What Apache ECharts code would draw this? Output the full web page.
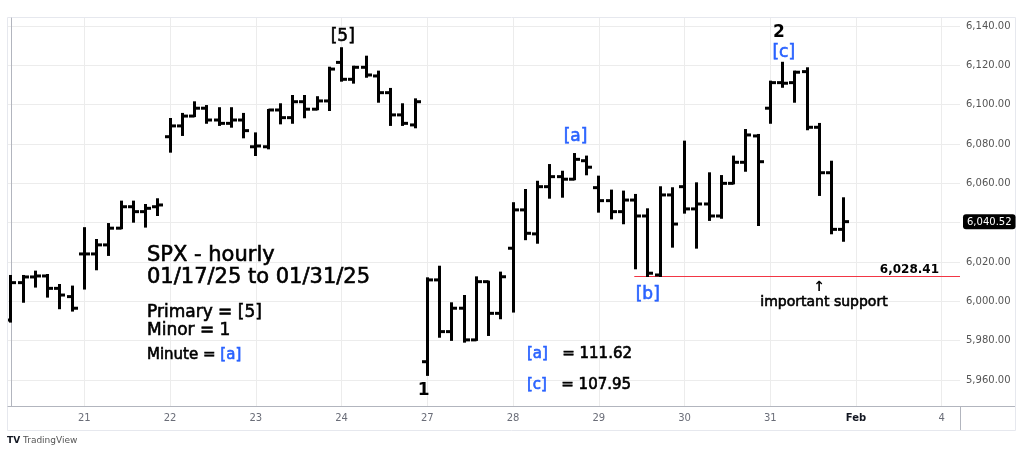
<!DOCTYPE html>
<html>
<head>
<meta charset="utf-8">
<script src="https://cdn.jsdelivr.net/npm/echarts@6/dist/echarts.min.js"></script>
<style>
html,body{margin:0;padding:0;background:#fff;}
#c{width:1023px;height:454px;}
</style>
</head>
<body>
<div id="c"></div>
<script>
// ---- data (hourly bars, 7 per session; first session (Jan 17) only partly visible) ----
const dayStarts = [6, 13, 20, 27, 34, 41, 48, 55, 62, 69, 76];
const dayLabels = ['21', '22', '23', '24', '27', '28', '29', '30', '31', 'Feb', '4'];

const opens = [
  5990.5, 6009.5, 6012.4, 6012.9, 6006.6, 6002.4,
  6024.1, 6024.1, 6028.7, 6037.2, 6048.1, 6045.6, 6048.1,
  6083.7, 6089.2, 6094.2, 6098.2, 6092.2, 6090.5, 6092.2,
  6078.6, 6078.6, 6097.3, 6093.4, 6101.5, 6097.7, 6101.9,
  6121.5, 6112.9, 6119.0, 6114.6, 6106.1, 6094.8, 6089.7,
  5969.3, 6010.9, 5984.6, 5996.5, 5980.4, 6010.0, 5993.9,
  6027.0, 6046.5, 6034.3, 6058.3, 6063.4, 6062.1, 6071.5,
  6057.8, 6051.2, 6045.6, 6051.5, 6043.4, 6013.4, 6054.1,
  6058.3, 6047.0, 6049.5, 6043.4, 6060.0, 6070.7, 6084.1,
  6098.2, 6111.2, 6111.2, 6116.8, 6088.5, 6065.4, 6036.6
];
const highs = [
  6012.9, 6012.9, 6015.1, 6013.4, 6008.3, 6007.5,
  6037.2, 6031.2, 6039.3, 6050.7, 6050.7, 6049.0, 6051.9,
  6092.7, 6095.3, 6101.2, 6099.3, 6098.2, 6098.2, 6095.3,
  6085.4, 6097.3, 6100.2, 6104.4, 6104.4, 6103.8, 6118.8,
  6128.7, 6119.3, 6124.4, 6116.8, 6108.0, 6100.2, 6102.7,
  6011.7, 6017.6, 5999.0, 6002.7, 6012.2, 6010.0, 6014.6,
  6049.9, 6056.6, 6060.8, 6069.3, 6065.9, 6074.9, 6073.6,
  6063.4, 6056.3, 6055.8, 6054.1, 6046.8, 6058.0, 6057.5,
  6081.2, 6060.0, 6065.1, 6063.7, 6073.6, 6087.1, 6084.6,
  6111.7, 6121.3, 6116.8, 6118.5, 6090.2, 6071.0, 6052.4
];
const lows = [
  5989.7, 5999.8, 6007.5, 6002.4, 5996.5, 5995.3,
  6006.5, 6016.3, 6023.6, 6037.2, 6040.5, 6038.0, 6043.9,
  6076.1, 6084.6, 6094.2, 6090.8, 6089.7, 6088.8, 6083.4,
  6074.4, 6077.8, 6090.5, 6090.8, 6093.6, 6097.7, 6097.3,
  6112.2, 6111.2, 6114.2, 6101.5, 6089.7, 6089.7, 6088.5,
  5962.6, 5982.0, 5980.4, 5979.5, 5980.4, 5982.9, 5991.4,
  5994.8, 6031.6, 6029.8, 6052.7, 6053.2, 6062.1, 6064.6,
  6045.6, 6042.2, 6039.7, 6016.8, 6012.9, 6012.9, 6027.8,
  6045.1, 6027.3, 6041.4, 6042.5, 6060.0, 6066.4, 6038.8,
  6090.8, 6109.1, 6101.5, 6087.5, 6054.1, 6034.6, 6030.8
];
const closes = [
  6009.5, 6012.4, 6012.9, 6006.6, 6003.2, 5996.5,
  6024.1, 6028.7, 6037.2, 6048.1, 6045.6, 6047.3, 6049.0,
  6089.2, 6094.2, 6098.2, 6092.2, 6090.5, 6092.2, 6086.8,
  6079.0, 6097.3, 6093.4, 6101.5, 6097.7, 6101.9, 6118.1,
  6112.9, 6119.0, 6115.1, 6106.1, 6094.8, 6090.5, 6101.5,
  6010.9, 5984.6, 5996.5, 5980.4, 6010.0, 5993.9, 6012.5,
  6046.5, 6034.6, 6058.3, 6063.4, 6062.1, 6072.2, 6068.2,
  6051.2, 6045.6, 6051.5, 6043.4, 6014.3, 6054.1, 6039.3,
  6047.0, 6049.5, 6043.4, 6060.0, 6070.7, 6084.6, 6071.0,
  6111.2, 6110.9, 6116.5, 6088.5, 6065.4, 6036.6, 6040.52
];
const priceTicks = [5960, 5980, 6000, 6020, 6040, 6060, 6080, 6100, 6120, 6140];
const lastPrice = 6040.52;
const supportLevel = 6012.6;
const supportText = '6,028.41';
const supportStartIdx = 50.9;

// wave labels anchored at (bar index, price)
const waveLabels = [
  { text: '[5]', idx: 27.1, price: 6134.6, color: '#000' },
  { text: '1', idx: 33.7, price: 5954.6, color: '#000', bold: true },
  { text: '2', idx: 62.7, price: 6136.6, color: '#000', bold: true },
  { text: '[c]', idx: 63.1, price: 6126.6, color: '#2962ff' },
  { text: '[a]', idx: 46.1, price: 6083.6, color: '#2962ff' },
  { text: '[b]', idx: 52.0, price: 6003.4, color: '#2962ff' }
];

const FONT = '"DejaVu Sans", Verdana, sans-serif';
const fmt = v => v.toLocaleString('en-US', { minimumFractionDigits: 2, maximumFractionDigits: 2 });

const bars = opens.map((o, i) => [i, o, highs[i], lows[i], closes[i]]);

function renderBar(params, api) {
  const x = api.value(0);
  const pH = api.coord([x, api.value(2)]);
  const pL = api.coord([x, api.value(3)]);
  const pO = api.coord([x, api.value(1)]);
  const pC = api.coord([x, api.value(4)]);
  const w = api.size([1, 0])[0] * 0.45;
  const cx = Math.round(pH[0] - 0.5) + 0.5;
  const st = { stroke: '#000', lineWidth: 3 };
  return {
    type: 'group',
    children: [
      { type: 'line', shape: { x1: cx, y1: pH[1] - 1, x2: cx, y2: pL[1] + 1 }, style: st },
      { type: 'line', shape: { x1: cx - w, y1: pO[1], x2: cx, y2: pO[1] }, style: st },
      { type: 'line', shape: { x1: cx, y1: pC[1], x2: cx + w, y2: pC[1] }, style: st }
    ]
  };
}

const chart = echarts.init(document.getElementById('c'), null, { renderer: 'canvas' });
const option = {
  animation: false,
  backgroundColor: '#fff',
  grid: { left: 8, right: 63, top: 18, bottom: 48, containLabel: false },
  xAxis: {
    type: 'value',
    min: -0.229,
    max: 77.49,
    axisLine: { show: true, onZero: false, lineStyle: { color: '#b2b5be', width: 1 } },
    axisTick: { show: false, customValues: dayStarts },
    axisLabel: {
      customValues: dayStarts,
      margin: 7,
      fontFamily: FONT,
      fontSize: 10,
      color: '#6a6d78',
      formatter: v => {
        const k = dayStarts.indexOf(Math.round(v));
        const t = k >= 0 ? dayLabels[k] : '';
        return t === 'Feb' ? '{b|Feb}' : t;
      },
      rich: { b: { fontWeight: 'bold', color: '#131722', fontFamily: FONT, fontSize: 10 } }
    },
    splitLine: { show: true, lineStyle: { color: '#ececec', width: 1 } }
  },
  yAxis: {
    type: 'value',
    position: 'right',
    min: 5946.78,
    max: 6144.07,
    axisLine: { show: true, lineStyle: { color: '#b2b5be', width: 1 } },
    axisTick: { show: false, customValues: priceTicks },
    axisLabel: {
      customValues: priceTicks,
      margin: 6,
      fontFamily: FONT,
      fontSize: 10,
      color: '#555',
      formatter: v => fmt(v)
    },
    splitLine: { show: true, lineStyle: { color: '#ececec', width: 1 } },
    axisPointer: {
      show: true,
      type: 'none',
      value: lastPrice,
      status: 'show',
      triggerTooltip: false,
      triggerOn: 'none',
      label: {
        show: true,
        backgroundColor: '#000',
        color: '#fff',
        fontFamily: FONT,
        fontSize: 10,
        padding: [3, 4, 2, 4],
        margin: 3,
        formatter: p => fmt(p.value)
      }
    }
  },
  series: [
    {
      type: 'custom',
      renderItem: renderBar,
      data: bars,
      encode: { x: 0, y: [1, 2, 3, 4] },
      clip: true,
      z: 5,
      markLine: {
        silent: true,
        symbol: ['none', 'none'],
        label: { show: false },
        lineStyle: { color: '#f23645', width: 1, type: 'solid' },
        data: [[{ coord: [supportStartIdx, supportLevel] }, { coord: [77.49, supportLevel] }]]
      }
    }
  ]
};
chart.setOption(option);

function px(idx, price) { return chart.convertToPixel({ gridIndex: 0 }, [idx, price]); }

const heavy = c => ({ stroke: c, lineWidth: 0.6 });
const g = [];
waveLabels.forEach(l => {
  const p = px(l.idx, l.price);
  g.push({
    type: 'text', x: p[0], y: p[1], z: 20,
    style: Object.assign({ text: l.text, fill: l.color, font: (l.bold ? 'bold ' : '') + '17px ' + FONT, align: 'center', verticalAlign: 'middle' }, l.bold ? {} : heavy(l.color))
  });
});
// support annotation
const sp = px(77.49, supportLevel);
g.push({ type: 'text', x: 939, y: sp[1] - 7, z: 20,
  style: { text: supportText, fill: '#000', font: 'bold 12px ' + FONT, align: 'right', verticalAlign: 'middle' } });
g.push({ type: 'text', x: 819, y: sp[1] + 11, z: 20,
  style: { text: '↑', fill: '#000', font: 'bold 14px ' + FONT, align: 'center', verticalAlign: 'middle' } });
g.push({ type: 'text', x: 824, y: sp[1] + 26, z: 20,
  style: Object.assign({ text: 'important support', fill: '#000', font: '14px ' + FONT, align: 'center', verticalAlign: 'middle' }, heavy('#000')) });

// description block
const blk = (x, y, text, size, extra) => g.push({ type: 'text', x, y, z: 20,
  style: Object.assign({ text, fill: '#000', font: size + 'px ' + FONT, verticalAlign: 'middle' }, heavy('#000'), extra || {}) });
blk(147, 256, 'SPX - hourly', 21);
blk(147, 278, '01/17/25 to 01/31/25', 21);
blk(147, 313, 'Primary = [5]', 17);
blk(147, 331, 'Minor = 1', 17);
const blue = { b: { fill: '#2962ff', stroke: '#2962ff', lineWidth: 0.6, font: '15px ' + FONT } };
blk(147, 355, 'Minute = {b|[a]}', 15, { rich: blue });
blk(527, 354, '{b|[a]}   = 111.62', 15, { rich: blue });
blk(527, 385, '{b|[c]}   = 107.95', 15, { rich: blue });

// frame pieces outside the grid
g.push({ type: 'rect', shape: { x: 7.5, y: 17.5, width: 1008, height: 413 }, z: 0,
  style: { fill: 'none', stroke: '#e6e8ee', lineWidth: 1 } });
g.push({ type: 'line', shape: { x1: 960.5, y1: 406, x2: 960.5, y2: 430 }, z: 1, style: { stroke: '#b2b5be', lineWidth: 1 } });
g.push({ type: 'line', shape: { x1: 960, y1: 406.5, x2: 1015, y2: 406.5 }, z: 1, style: { stroke: '#b2b5be', lineWidth: 1 } });
// TradingView mark
g.push({ type: 'text', x: 7, y: 441, z: 20, style: { text: 'TV', fill: '#131722', font: 'bold 9px ' + FONT, verticalAlign: 'middle' } });
g.push({ type: 'text', x: 23, y: 441, z: 20, style: { text: 'TradingView', fill: '#555', font: '9px ' + FONT, verticalAlign: 'middle' } });

chart.setOption({ graphic: g });
</script>
</body>
</html>
